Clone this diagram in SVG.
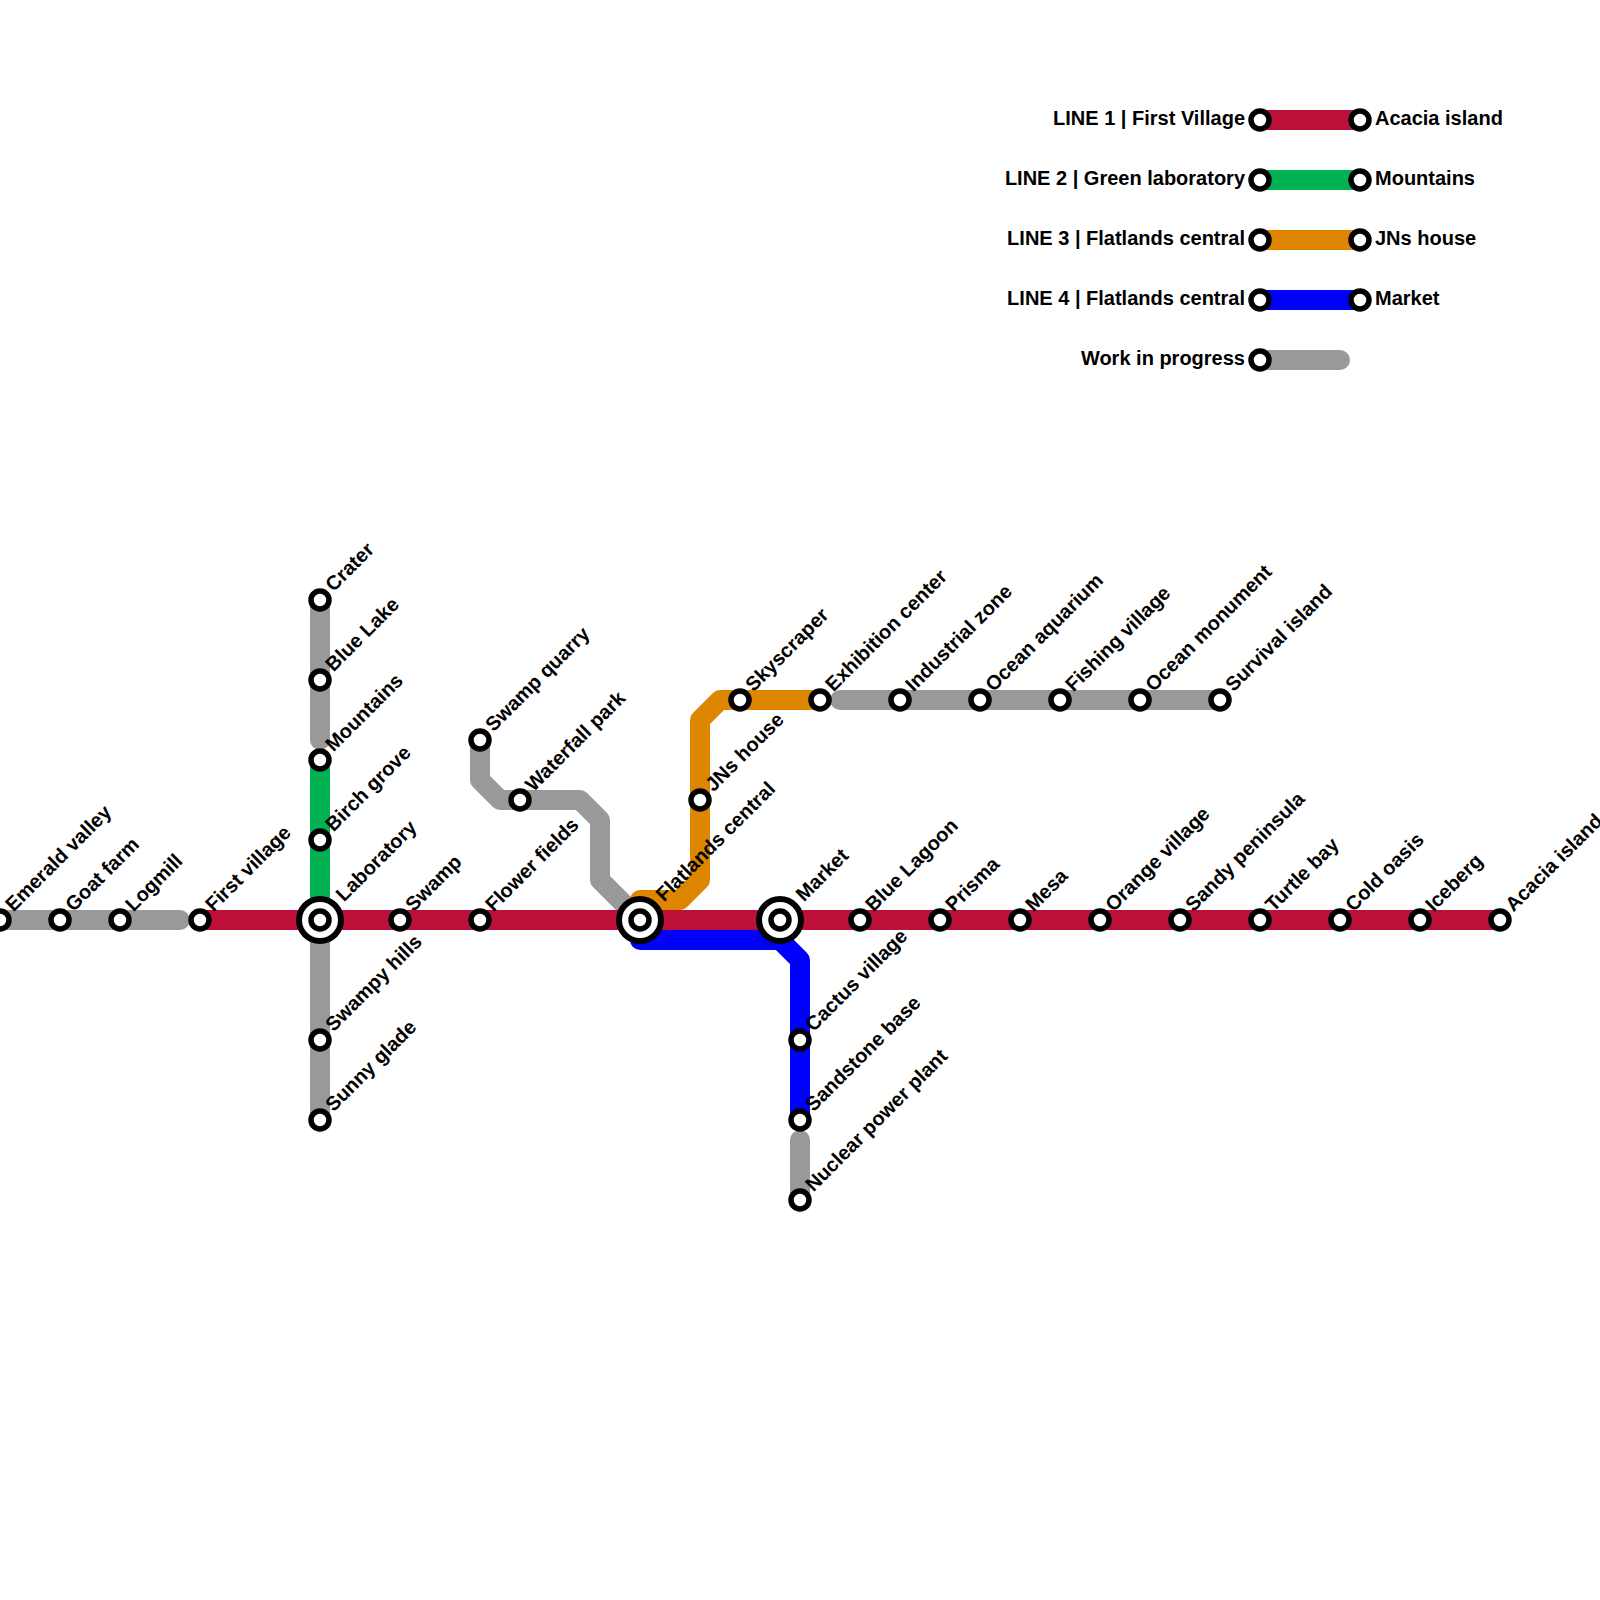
<svg xmlns="http://www.w3.org/2000/svg" width="1600" height="1600" viewBox="0 0 1600 1600">
<style>
.l{fill:none;stroke-width:20;stroke-linejoin:round}
.g{stroke:#999999;stroke-linecap:round}
.r{stroke:#bd1038}.n{stroke:#00b251}.o{stroke:#df8600;stroke-linecap:round}.b{stroke:#0000ff;stroke-linecap:round}
.s{fill:#fff;stroke:#000;stroke-width:5.5}
.h{fill:#fff;stroke:#000;stroke-width:6}
text{font-family:"Liberation Sans",Arial,sans-serif;font-weight:700;font-size:20px;fill:#000}
.e{text-anchor:end}
</style>
<defs>
<circle id="st" class="s" r="9"/>
<g id="big"><circle class="h" r="21"/><circle class="s" r="9"/></g>
</defs>
<g id="connectors">
<path class="l g" d="M0 920H180"/>
<path class="l g" d="M320 600V740"/>
<path class="l g" d="M320 920V1120"/>
<path class="l g" d="M480 740V780L500 800H580L600 820V880L640 920"/>
<path class="l g" d="M840 700H1220"/>
<path class="l g" d="M800 1140V1200"/>
<path class="l n" d="M320 760V920"/>
<path class="l o" d="M640 900H680L700 880V720L720 700H820"/>
<path class="l b" d="M640 940H780L800 960V1120"/>
<path class="l r" d="M200 920H1500"/>
<path class="l r" d="M1260 120H1360"/>
<path class="l n" d="M1260 180H1360"/>
<path class="l o" style="stroke-linecap:butt" d="M1260 240H1360"/>
<path class="l b" style="stroke-linecap:butt" d="M1260 300H1360"/>
<path class="l g" d="M1260 360H1340"/>
</g>
<g id="emerald-valley"><use href="#st" x="0" y="920"/><text transform="translate(13.5 912.5) rotate(-45)">Emerald valley</text></g>
<g id="goat-farm"><use href="#st" x="60" y="920"/><text transform="translate(73.5 912.5) rotate(-45)">Goat farm</text></g>
<g id="logmill"><use href="#st" x="120" y="920"/><text transform="translate(133.5 912.5) rotate(-45)">Logmill</text></g>
<g id="first-village"><use href="#st" x="200" y="920"/><text transform="translate(213.5 912.5) rotate(-45)">First village</text></g>
<g id="laboratory"><use href="#big" x="320" y="920"/><text transform="translate(344 902.5) rotate(-45)">Laboratory</text></g>
<g id="swamp"><use href="#st" x="400" y="920"/><text transform="translate(413.5 912.5) rotate(-45)">Swamp</text></g>
<g id="flower-fields"><use href="#st" x="480" y="920"/><text transform="translate(493.5 912.5) rotate(-45)">Flower fields</text></g>
<g id="flatlands-central"><use href="#big" x="640" y="920"/><text transform="translate(664 902.5) rotate(-45)">Flatlands central</text></g>
<g id="market"><use href="#big" x="780" y="920"/><text transform="translate(804 902.5) rotate(-45)">Market</text></g>
<g id="blue-lagoon"><use href="#st" x="860" y="920"/><text transform="translate(873.5 912.5) rotate(-45)">Blue Lagoon</text></g>
<g id="prisma"><use href="#st" x="940" y="920"/><text transform="translate(953.5 912.5) rotate(-45)">Prisma</text></g>
<g id="mesa"><use href="#st" x="1020" y="920"/><text transform="translate(1033.5 912.5) rotate(-45)">Mesa</text></g>
<g id="orange-village"><use href="#st" x="1100" y="920"/><text transform="translate(1113.5 912.5) rotate(-45)">Orange village</text></g>
<g id="sandy-peninsula"><use href="#st" x="1180" y="920"/><text transform="translate(1193.5 912.5) rotate(-45)">Sandy peninsula</text></g>
<g id="turtle-bay"><use href="#st" x="1260" y="920"/><text transform="translate(1273.5 912.5) rotate(-45)">Turtle bay</text></g>
<g id="cold-oasis"><use href="#st" x="1340" y="920"/><text transform="translate(1353.5 912.5) rotate(-45)">Cold oasis</text></g>
<g id="iceberg"><use href="#st" x="1420" y="920"/><text transform="translate(1433.5 912.5) rotate(-45)">Iceberg</text></g>
<g id="acacia-island"><use href="#st" x="1500" y="920"/><text transform="translate(1513.5 912.5) rotate(-45)">Acacia island</text></g>
<g id="crater"><use href="#st" x="320" y="600"/><text transform="translate(333.5 592.5) rotate(-45)">Crater</text></g>
<g id="blue-lake"><use href="#st" x="320" y="680"/><text transform="translate(333.5 672.5) rotate(-45)">Blue Lake</text></g>
<g id="mountains"><use href="#st" x="320" y="760"/><text transform="translate(333.5 752.5) rotate(-45)">Mountains</text></g>
<g id="birch-grove"><use href="#st" x="320" y="840"/><text transform="translate(333.5 832.5) rotate(-45)">Birch grove</text></g>
<g id="swampy-hills"><use href="#st" x="320" y="1040"/><text transform="translate(333.5 1032.5) rotate(-45)">Swampy hills</text></g>
<g id="sunny-glade"><use href="#st" x="320" y="1120"/><text transform="translate(333.5 1112.5) rotate(-45)">Sunny glade</text></g>
<g id="swamp-quarry"><use href="#st" x="480" y="740"/><text transform="translate(493.5 732.5) rotate(-45)">Swamp quarry</text></g>
<g id="waterfall-park"><use href="#st" x="520" y="800"/><text transform="translate(533.5 792.5) rotate(-45)">Waterfall park</text></g>
<g id="jns-house"><use href="#st" x="700" y="800"/><text transform="translate(713.5 792.5) rotate(-45)">JNs house</text></g>
<g id="skyscraper"><use href="#st" x="740" y="700"/><text transform="translate(753.5 692.5) rotate(-45)">Skyscraper</text></g>
<g id="exhibition-center"><use href="#st" x="820" y="700"/><text transform="translate(833.5 692.5) rotate(-45)">Exhibition center</text></g>
<g id="industrial-zone"><use href="#st" x="900" y="700"/><text transform="translate(913.5 692.5) rotate(-45)">Industrial zone</text></g>
<g id="ocean-aquarium"><use href="#st" x="980" y="700"/><text transform="translate(993.5 692.5) rotate(-45)">Ocean aquarium</text></g>
<g id="fishing-village"><use href="#st" x="1060" y="700"/><text transform="translate(1073.5 692.5) rotate(-45)">Fishing village</text></g>
<g id="ocean-monument"><use href="#st" x="1140" y="700"/><text transform="translate(1153.5 692.5) rotate(-45)">Ocean monument</text></g>
<g id="survival-island"><use href="#st" x="1220" y="700"/><text transform="translate(1233.5 692.5) rotate(-45)">Survival island</text></g>
<g id="cactus-village"><use href="#st" x="800" y="1040"/><text transform="translate(813.5 1032.5) rotate(-45)">Cactus village</text></g>
<g id="sandstone-base"><use href="#st" x="800" y="1120"/><text transform="translate(813.5 1112.5) rotate(-45)">Sandstone base</text></g>
<g id="nuclear-power-plant"><use href="#st" x="800" y="1200"/><text transform="translate(813.5 1192.5) rotate(-45)">Nuclear power plant</text></g>
<g id="legend">
<use href="#st" x="1260" y="120"/><use href="#st" x="1360" y="120"/>
<use href="#st" x="1260" y="180"/><use href="#st" x="1360" y="180"/>
<use href="#st" x="1260" y="240"/><use href="#st" x="1360" y="240"/>
<use href="#st" x="1260" y="300"/><use href="#st" x="1360" y="300"/>
<use href="#st" x="1260" y="360"/>
<text class="e" x="1245" y="125">LINE 1 | First Village</text><text x="1375" y="125">Acacia island</text>
<text class="e" x="1245" y="185">LINE 2 | Green laboratory</text><text x="1375" y="185">Mountains</text>
<text class="e" x="1245" y="245">LINE 3 | Flatlands central</text><text x="1375" y="245">JNs house</text>
<text class="e" x="1245" y="305">LINE 4 | Flatlands central</text><text x="1375" y="305">Market</text>
<text class="e" x="1245" y="365">Work in progress</text>
</g>
</svg>
